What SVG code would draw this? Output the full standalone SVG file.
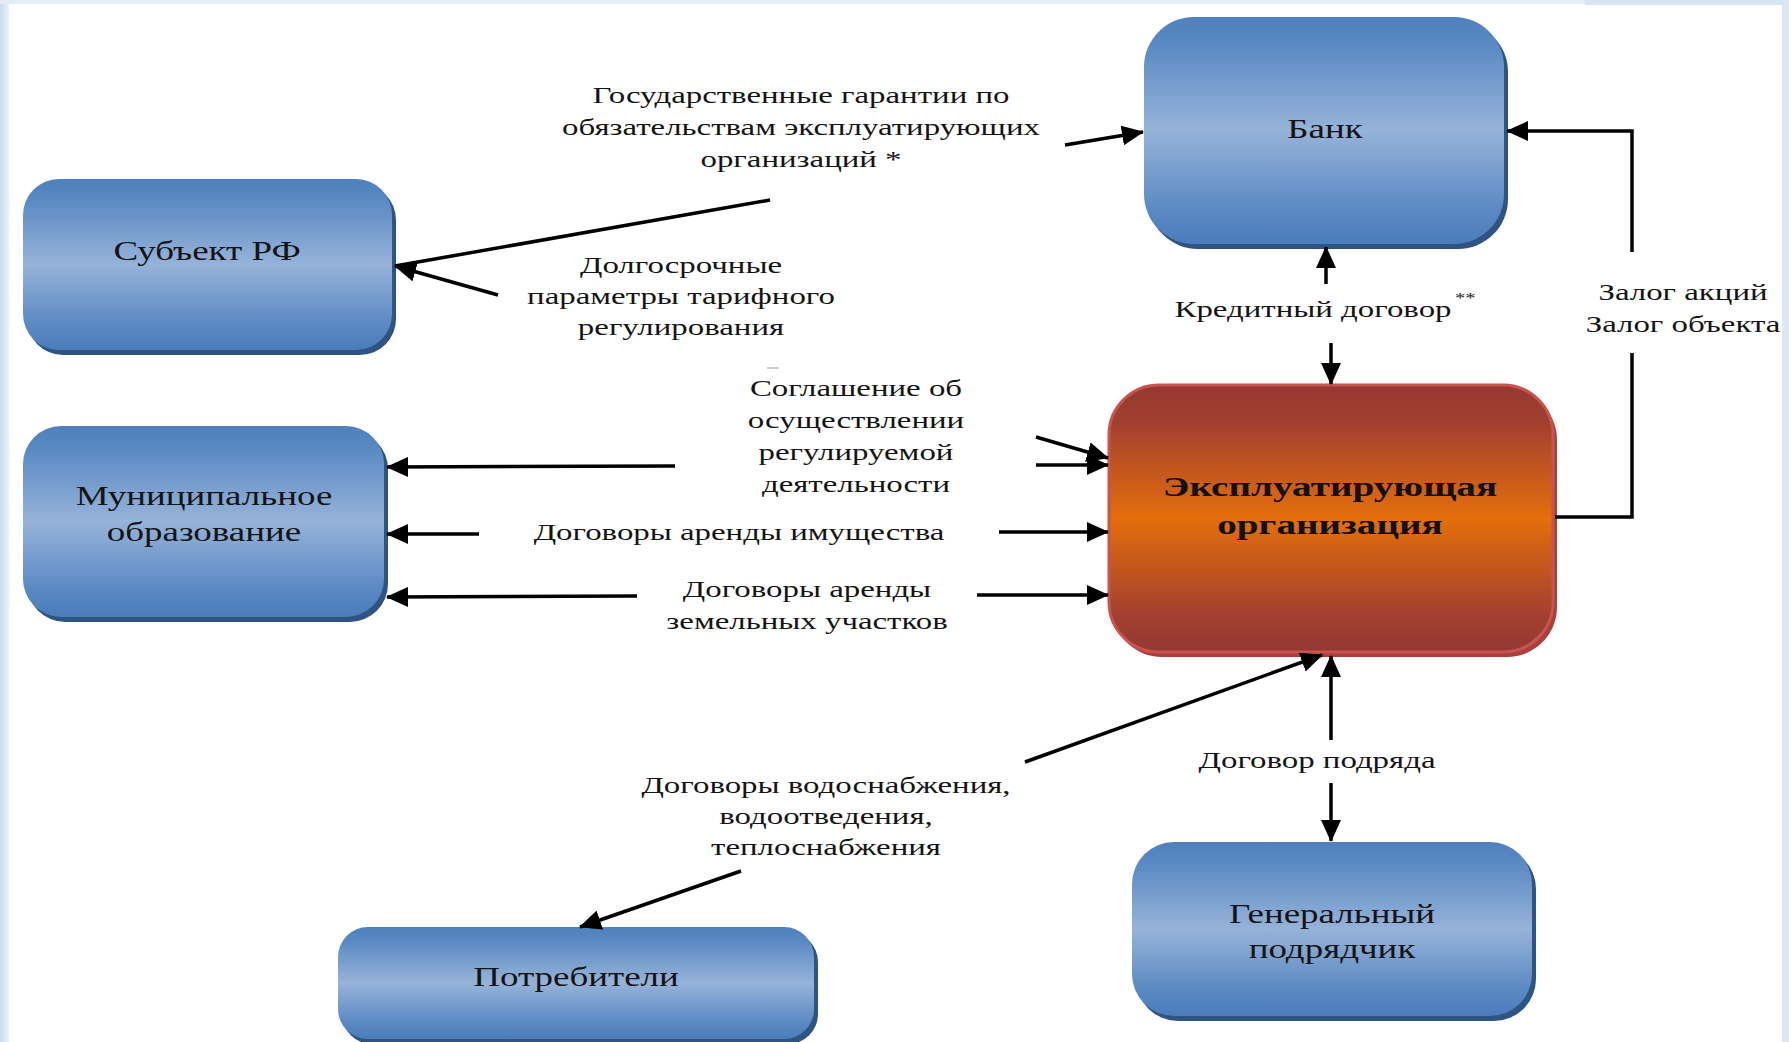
<svg xmlns="http://www.w3.org/2000/svg" width="1789" height="1042" viewBox="0 0 1789 1042">
<defs>
<style>
.lbl{font-family:"Liberation Serif","Times New Roman",serif;font-size:24px;fill:#141414;text-anchor:middle}
.nt{font-family:"Liberation Serif","Times New Roman",serif;font-size:27px;fill:#141414;text-anchor:middle}
.bt{font-family:"Liberation Serif","Times New Roman",serif;font-size:28px;font-weight:bold;fill:#111;text-anchor:middle}
.sup{font-family:"Liberation Serif","Times New Roman",serif;font-size:15px;fill:#141414}
.ln{stroke:#000;stroke-width:3.5;fill:none}
.arr{stroke:#000;stroke-width:3.5;fill:none;marker-end:url(#ah)}
.bshadow{fill:#2f5482}
.blue{fill:url(#gBlue)}
</style>
<linearGradient id="gBlue" x1="0" y1="0" x2="0" y2="1">
<stop offset="0" stop-color="#4f80bd"/>
<stop offset="0.12" stop-color="#5a89c3"/>
<stop offset="0.5" stop-color="#96b3d9"/>
<stop offset="0.85" stop-color="#5b89c3"/>
<stop offset="1" stop-color="#4b7cbb"/>
</linearGradient>
<linearGradient id="gOr" x1="0" y1="0" x2="0" y2="1">
<stop offset="0" stop-color="#953832"/>
<stop offset="0.14" stop-color="#a2402f"/>
<stop offset="0.5" stop-color="#e46e0c"/>
<stop offset="0.86" stop-color="#a3402f"/>
<stop offset="1" stop-color="#943834"/>
</linearGradient>
<linearGradient id="gEdge" x1="0" y1="0" x2="1" y2="0">
<stop offset="0" stop-color="#c9dcef"/>
<stop offset="1" stop-color="#e9f1fa"/>
</linearGradient>
<marker id="ah" markerUnits="userSpaceOnUse" markerWidth="22" markerHeight="20" refX="21" refY="10" orient="auto">
<path d="M0,0 L22,10 L0,20 Z" fill="#000"/>
</marker>
</defs>
<rect x="0" y="0" width="1789" height="1042" fill="#ffffff"/>
<rect x="0" y="0" width="9" height="1042" fill="url(#gEdge)"/>
<rect x="0" y="0" width="1789" height="4" fill="#e3ebf3"/>
<rect x="1585" y="0" width="204" height="5" fill="#d6e4f3"/>
<rect x="1782" y="0" width="7" height="1042" fill="#dbe7f4"/>
<line x1="767" y1="368" x2="779" y2="368" stroke="#bbbbbb" stroke-width="1.5"/>

<g id="node-bank">
<rect x="1148" y="22" width="360" height="227" rx="50" class="bshadow"/>
<rect x="1144" y="17" width="360" height="227" rx="50" class="blue"/>
<g transform="translate(1325 0) scale(1.37 1)"><text class="nt" x="0" y="138">Банк</text></g>
</g>

<g id="node-subject">
<rect x="27" y="184" width="369" height="171" rx="36" class="bshadow"/>
<rect x="23" y="179" width="369" height="171" rx="36" class="blue"/>
<g transform="translate(207 0) scale(1.37 1)"><text class="nt" x="0" y="260">Субъект РФ</text></g>
</g>

<g id="node-municipal">
<rect x="27" y="431" width="361" height="191" rx="38" class="bshadow"/>
<rect x="23" y="426" width="361" height="191" rx="38" class="blue"/>
<g transform="translate(204 0) scale(1.37 1)"><text class="nt"><tspan x="0" y="505">Муниципальное</tspan><tspan x="0" y="541">образование</tspan></text></g>
</g>

<g id="node-operator">
<rect x="1112" y="390" width="445" height="267" rx="50" fill="#a9403c"/>
<rect x="1109" y="385" width="444" height="267" rx="50" fill="url(#gOr)" stroke="#c9534f" stroke-width="3"/>
<g transform="translate(1330 0) scale(1.4 1)"><text class="bt"><tspan x="0" y="496">Эксплуатирующая</tspan><tspan x="0" y="534">организация</tspan></text></g>
</g>

<g id="node-contractor">
<rect x="1136" y="847" width="400" height="174" rx="42" class="bshadow"/>
<rect x="1132" y="842" width="400" height="174" rx="42" class="blue"/>
<g transform="translate(1332 0) scale(1.37 1)"><text class="nt"><tspan x="0" y="923">Генеральный</tspan><tspan x="0" y="958">подрядчик</tspan></text></g>
</g>

<g id="node-consumers">
<rect x="342" y="932" width="476" height="112" rx="30" class="bshadow"/>
<rect x="338" y="927" width="476" height="112" rx="30" class="blue"/>
<g transform="translate(576 0) scale(1.37 1)"><text class="nt" x="0" y="986">Потребители</text></g>
</g>

<g id="connectors">
<line x1="1065" y1="145" x2="1143" y2="132" class="arr"/>
<line x1="770" y1="200" x2="395" y2="266" class="ln"/>
<line x1="498" y1="295" x2="395" y2="266" class="arr"/>
<line x1="1326" y1="284" x2="1326" y2="247" class="arr"/>
<line x1="1331" y1="343" x2="1331" y2="384" class="arr"/>
<polyline points="1555,517 1632,517 1632,353" class="ln"/>
<polyline points="1632,252 1632,131 1507,131" class="arr"/>
<line x1="675" y1="466" x2="387" y2="467" class="arr"/>
<line x1="479" y1="534" x2="387" y2="534" class="arr"/>
<line x1="637" y1="596" x2="387" y2="597" class="arr"/>
<line x1="1036" y1="437" x2="1108" y2="458" class="arr"/>
<line x1="1036" y1="465" x2="1108" y2="465" class="arr"/>
<line x1="999" y1="532" x2="1108" y2="532" class="arr"/>
<line x1="977" y1="595" x2="1108" y2="595" class="arr"/>
<line x1="1025" y1="762" x2="1322" y2="655" class="arr"/>
<line x1="1331" y1="740" x2="1331" y2="656" class="arr"/>
<line x1="1331" y1="783" x2="1331" y2="841" class="arr"/>
<line x1="741" y1="871" x2="580" y2="927" class="arr"/>
</g>

<g id="labels">
<g transform="translate(801 0) scale(1.37 1)"><text class="lbl"><tspan x="0" y="103">Государственные гарантии по</tspan><tspan x="0" y="135">обязательствам эксплуатирующих</tspan><tspan x="0" y="167">организаций *</tspan></text></g>
<g transform="translate(681 0) scale(1.37 1)"><text class="lbl"><tspan x="0" y="273">Долгосрочные</tspan><tspan x="0" y="304">параметры тарифного</tspan><tspan x="0" y="335">регулирования</tspan></text></g>
<g transform="translate(856 0) scale(1.37 1)"><text class="lbl"><tspan x="0" y="396">Соглашение об</tspan><tspan x="0" y="428">осуществлении</tspan><tspan x="0" y="460">регулируемой</tspan><tspan x="0" y="492">деятельности</tspan></text></g>
<g transform="translate(739 0) scale(1.37 1)"><text class="lbl" x="0" y="540">Договоры аренды имущества</text></g>
<g transform="translate(807 0) scale(1.37 1)"><text class="lbl"><tspan x="0" y="597">Договоры аренды</tspan><tspan x="0" y="629">земельных участков</tspan></text></g>
<g transform="translate(1313 0) scale(1.37 1)"><text class="lbl" x="0" y="317">Кредитный договор</text></g>
<g transform="translate(1455 0) scale(1.37 1)"><text class="sup" x="0" y="303">**</text></g>
<g transform="translate(1683 0) scale(1.37 1)"><text class="lbl"><tspan x="0" y="300">Залог акций</tspan><tspan x="0" y="332">Залог объекта</tspan></text></g>
<g transform="translate(1317 0) scale(1.37 1)"><text class="lbl" x="0" y="768">Договор подряда</text></g>
<g transform="translate(826 0) scale(1.37 1)"><text class="lbl"><tspan x="0" y="793">Договоры водоснабжения,</tspan><tspan x="0" y="824">водоотведения,</tspan><tspan x="0" y="855">теплоснабжения</tspan></text></g>
</g>
</svg>
